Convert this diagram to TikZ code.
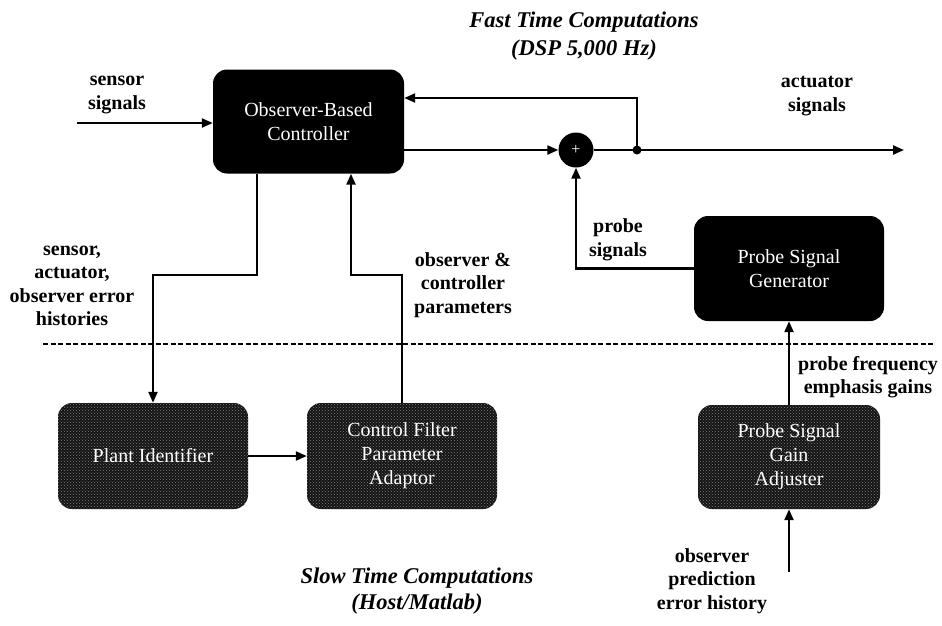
\documentclass[tikz,border=0pt]{standalone}
\usepackage{fontspec}
\setmainfont{Liberation Serif}
\usetikzlibrary{arrows.meta,patterns}
\begin{document}
\begin{tikzpicture}[x=1pt,y=-1pt,
  fastbox/.style={draw=none, fill=black, rounded corners=14pt, text=white,
    font=\fontsize{20}{24}\selectfont, align=center,
    minimum width=191pt, minimum height=104pt, inner sep=0pt},
  slowbox/.style={fastbox, fill=black!92,
    postaction={pattern=crosshatch dots, pattern color=black!50}},
  lbl/.style={font=\fontsize{20}{23.5}\selectfont\bfseries, align=center, inner sep=0pt},
  ttl/.style={font=\fontsize{22.5}{26}\selectfont\bfseries\itshape, align=center, inner sep=0pt},
  wire/.style={line width=2.2pt},
  flow/.style={wire, -{Triangle[length=11pt,width=9pt]}},
  sepline/.style={line width=1.5pt, dash pattern=on 5pt off 2.5pt}
]
\useasboundingbox (0,0) rectangle (942,625);

% blocks
\node[fastbox] (ctrl) at (308.5,121.5) {Observer-Based\\Controller};
\node[fastbox, minimum width=190pt, minimum height=105pt] (pgen) at (789,268.5) {Probe Signal\\Generator};
\node[slowbox, minimum width=190pt, minimum height=106pt] (plant) at (153,456) {Plant Identifier};
\node[slowbox, minimum width=190pt, minimum height=106pt] (cfpa) at (402,456) {Control Filter\\Parameter\\Adaptor};
\node[slowbox, minimum width=182pt, minimum height=104pt] (psga) at (789,457) {Probe Signal\\Gain\\Adjuster};
\node[circle, fill=black, minimum size=35pt, inner sep=0pt, text=white,
      font=\fontsize{16}{16}\selectfont] (sum) at (576,150) {+};
\node[circle, fill=black, minimum size=9pt, inner sep=0pt] (dot) at (637,150) {};

% free ends
\coordinate (sin) at (77,123);
\coordinate (aout) at (904,150);
\coordinate (fbk) at (637,98);
\coordinate (ein) at (789,572);
\coordinate (dl) at (43,344);
\coordinate (dr) at (935,344);
\coordinate (jl) at (257,275);
\coordinate (jr) at (351,275);

% connectors
\draw[flow] (sin) -- (sin -| ctrl.west);
\draw[flow] (dot.center) -- (fbk) -- (fbk -| ctrl.east);
\draw[flow] (ctrl.east |- sum) -- (sum.west);
\draw[wire] (sum.east) -- (dot.center);
\draw[flow] (dot.center) -- (aout);
\draw[flow] (pgen.west) -| (sum.south);
\draw[flow] (jl |- ctrl.south) -- (jl) -| (plant.north);
\draw[flow] (cfpa.north) |- (jr) -- (jr |- ctrl.south);
\draw[flow] (plant.east) -- (cfpa.west);
\draw[flow] (psga.north) -- (pgen.south);
\draw[flow] (ein) -- (psga.south);
\draw[sepline] (dl) -- (dr);

% labels
\node[ttl] (fast) at (584,22) {Fast Time Computations};
\node[ttl] (dsp) at (584,50) {(DSP 5,000 Hz)};
\node[ttl] (slow) at (417,578) {Slow Time Computations};
\node[ttl] (host) at (417,604) {(Host/Matlab)};
\node[lbl] (lsen) at (117,95) {sensor\\signals};
\node[lbl] (lact) at (817,96) {actuator\\signals};
\node[lbl] (lhist) at (72,286) {sensor,\\actuator,\\observer error\\histories};
\node[lbl] (lpar) at (463,285) {observer \&\\controller\\parameters};
\node[lbl] (lprobe) at (618,240) {probe\\signals};
\node[lbl] (lgain) at (868,377) {probe frequency\\emphasis gains};
\node[lbl] (lerr) at (712,581) {observer\\prediction\\error history};
\end{tikzpicture}
\end{document}
